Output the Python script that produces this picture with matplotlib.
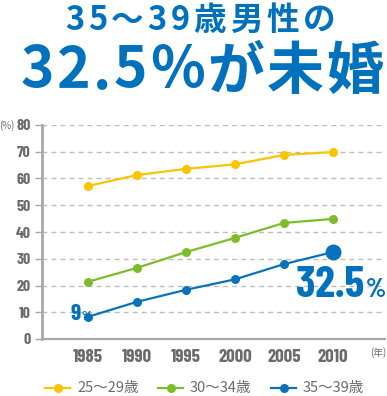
import numpy as np
import matplotlib
matplotlib.use("Agg")
import matplotlib.pyplot as plt

years = [1985, 1990, 1995, 2000, 2005, 2010]
age_25_29 = [57.2, 61.3, 63.6, 65.3, 68.8, 69.9]
age_30_34 = [21.4, 26.6, 32.5, 37.8, 43.4, 44.9]
age_35_39 = [8.3, 13.9, 18.4, 22.3, 28.0, 32.5]
series_labels = ["25〜29歳", "30〜34歳", "35〜39歳"]
y_ticks = [0, 10, 20, 30, 40, 50, 60, 70, 80]

BLUE = "#0071bc"
colors = ["#fbc400", "#7dbd2b", "#0a72bb"]
GRAY = "#6b6b6b"
JP = ["Noto Sans CJK JP", "DejaVu Sans"]
NARROW = ["Barlow Condensed", "DejaVu Sans"]

W, H = 387, 396
fig = plt.figure(figsize=(W / 100, H / 100), dpi=100)
renderer = fig.canvas.get_renderer()


def spaced_text(s, xc, y, size, spacing, **kw):
    # draw a string char by char with extra letter spacing, centred on xc
    widths = []
    for ch in s:
        t = fig.text(0, 0, ch, fontsize=size, **kw)
        widths.append(t.get_window_extent(renderer).width)
        t.remove()
    total = sum(widths) + spacing * (len(s) - 1)
    x = xc - total / 2
    for ch, w in zip(s, widths):
        fig.text(x / W, y, ch, fontsize=size, ha="left", va="center", **kw)
        x += w + spacing


spaced_text("35〜39歳男性の", 200, 1 - 20.5 / H, 23.5, 3.8,
            family=JP, weight="bold", color=BLUE)
spaced_text("32.5%が未婚", 202, 1 - 71.5 / H, 41, 2.5,
            family=JP, weight="bold", color=BLUE)

ax = fig.add_axes([42 / W, 1 - 339 / H, (385 - 42) / W, (339 - 125) / H])
ax.set_xlim(1980.3, 2015.3)
ax.set_ylim(0, 80)

for vals, c in zip([age_25_29, age_30_34, age_35_39], colors):
    ax.plot(years, vals, color=c, lw=1.6, marker="o", markersize=6.5,
            markeredgewidth=0, clip_on=False, zorder=3)
ax.plot(years[-1], age_35_39[-1], marker="o", markersize=11.5, color=colors[2],
        markeredgewidth=0, clip_on=False, zorder=4)

ax.set_yticks(y_ticks)
ax.set_xticks(years)
ax.yaxis.grid(True, ls=(0, (3.5, 3)), color="#bdbdbd", lw=1)
ax.set_axisbelow(True)
for s in ["top", "right"]:
    ax.spines[s].set_visible(False)
ax.spines["left"].set_color("#a8a8a8")
ax.spines["left"].set_linewidth(2)
ax.spines["bottom"].set_color("#a8a8a8")
ax.spines["bottom"].set_linewidth(1.6)
ax.tick_params(axis="y", length=5, width=1, color="#a8a8a8", pad=3)
ax.tick_params(axis="x", length=0, pad=7)
for lab in ax.get_yticklabels():
    lab.set_family(NARROW)
    lab.set_weight("bold")
    lab.set_fontsize(11.5)
    lab.set_color(GRAY)
for lab in ax.get_xticklabels():
    lab.set_family(NARROW)
    lab.set_weight("bold")
    lab.set_fontsize(13.5)
    lab.set_color(GRAY)

fig.text(7 / W, 1 - 126 / H, "(%)", fontsize=7, color=GRAY, ha="center",
         va="center", family=JP)
fig.text(378 / W, 1 - 353 / H, "(年)", fontsize=7, color=GRAY, ha="center",
         va="center", family=JP)

# value callouts
ax.text(1984.3, 7.1, "9", fontsize=17, color=BLUE,
        weight="bold", family=NARROW, ha="right", va="baseline")
ax.text(1984.3, 7.1, "%", fontsize=10, color=BLUE,
        weight="bold", family=NARROW, ha="left", va="baseline")
ax.text(2013.2, 15.7, "32.5", fontsize=32, color=BLUE,
        weight="bold", family=NARROW, ha="right", va="baseline")
ax.text(2013.3, 15.7, "%", fontsize=19, color=BLUE,
        weight="bold", family=NARROW, ha="left", va="baseline")

# legend
lax = fig.add_axes([0, 0, 1, 1], facecolor="none")
lax.set_xlim(0, W)
lax.set_ylim(H, 0)
lax.axis("off")
for i, (lbl, c) in enumerate(zip(series_labels, colors)):
    x0 = 45 + i * 113
    lax.plot([x0, x0 + 25], [388, 388], color=c, lw=1.6)
    lax.plot(x0 + 12.5, 388, marker="o", markersize=6.5, color=c,
             markeredgewidth=0)
    lax.text(x0 + 32, 388, lbl, fontsize=10.5, color=GRAY, family=JP,
             ha="left", va="center")

fig.savefig("out.png", dpi=100)
